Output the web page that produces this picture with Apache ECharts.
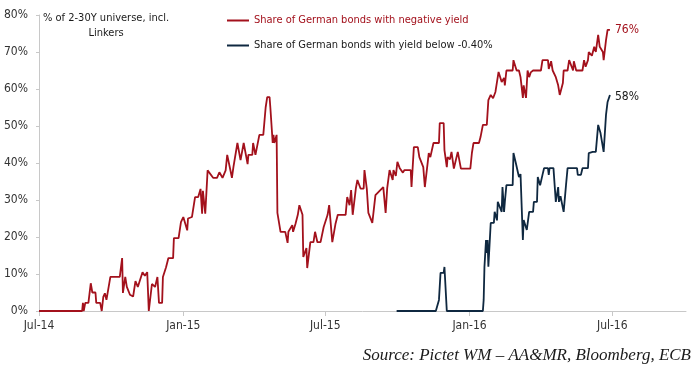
<!DOCTYPE html>
<html>
<head>
<meta charset="utf-8">
<script src="https://cdn.jsdelivr.net/npm/echarts@6/dist/echarts.min.js"></script>
<style>html,body{margin:0;padding:0;background:#fff}#c{width:699px;height:378px}</style>
</head>
<body>
<div id="c"></div>
<script>
const seriesNames = ['Share of German bonds with negative yield', 'Share of German bonds with yield below -0.40%'];
const endLabels = ['76%', '58%'];
const yAxisNote = '% of 2-30Y universe, incl.\nLinkers';
const sourceNote = 'Source: Pictet WM \u2013 AA&MR, Bloomberg, ECB';
const xRange = ['2014-07-01', '2016-10-03'];
const xTickDates = ['2014-07-01', '2015-01-01', '2015-07-01', '2016-01-01', '2016-07-01'];
const xTickLabels = ['Jul-14', 'Jan-15', 'Jul-15', 'Jan-16', 'Jul-16'];

const redDates = ['2014-07-01','2014-08-25','2014-08-26','2014-08-27','2014-08-29','2014-09-02','2014-09-05','2014-09-07','2014-09-11','2014-09-12','2014-09-17','2014-09-19','2014-09-21','2014-09-23','2014-09-25','2014-09-30','2014-10-12','2014-10-15','2014-10-16','2014-10-19','2014-10-21','2014-10-25','2014-10-29','2014-11-01','2014-11-04','2014-11-10','2014-11-13','2014-11-16','2014-11-18','2014-11-22','2014-11-26','2014-11-29','2014-12-01','2014-12-05','2014-12-06','2014-12-10','2014-12-13','2014-12-19','2014-12-20','2014-12-26','2014-12-29','2015-01-01','2015-01-06','2015-01-07','2015-01-12','2015-01-16','2015-01-20','2015-01-23','2015-01-25','2015-01-26','2015-01-29','2015-02-01','2015-02-08','2015-02-13','2015-02-16','2015-02-20','2015-02-24','2015-02-26','2015-03-02','2015-03-04','2015-03-06','2015-03-11','2015-03-15','2015-03-19','2015-03-21','2015-03-24','2015-03-25','2015-03-30','2015-03-31','2015-04-03','2015-04-05','2015-04-08','2015-04-13','2015-04-16','2015-04-18','2015-04-21','2015-04-22','2015-04-25','2015-04-26','2015-04-27','2015-04-30','2015-05-01','2015-05-05','2015-05-11','2015-05-14','2015-05-15','2015-05-20','2015-05-21','2015-05-24','2015-05-27','2015-05-29','2015-06-02','2015-06-03','2015-06-07','2015-06-08','2015-06-12','2015-06-16','2015-06-18','2015-06-21','2015-06-25','2015-06-29','2015-07-04','2015-07-06','2015-07-10','2015-07-14','2015-07-17','2015-07-27','2015-07-29','2015-08-01','2015-08-03','2015-08-05','2015-08-09','2015-08-11','2015-08-15','2015-08-19','2015-08-20','2015-08-23','2015-08-25','2015-08-30','2015-09-03','2015-09-13','2015-09-16','2015-09-18','2015-09-21','2015-09-25','2015-09-26','2015-09-29','2015-10-01','2015-10-04','2015-10-08','2015-10-10','2015-10-18','2015-10-19','2015-10-22','2015-10-27','2015-10-29','2015-11-03','2015-11-05','2015-11-09','2015-11-10','2015-11-12','2015-11-16','2015-11-23','2015-11-24','2015-11-29','2015-11-30','2015-12-03','2015-12-04','2015-12-07','2015-12-09','2015-12-12','2015-12-14','2015-12-17','2015-12-19','2015-12-21','2016-01-02','2016-01-04','2016-01-06','2016-01-13','2016-01-15','2016-01-18','2016-01-23','2016-01-25','2016-01-28','2016-01-31','2016-02-03','2016-02-07','2016-02-11','2016-02-14','2016-02-15','2016-02-17','2016-02-25','2016-02-26','2016-03-01','2016-03-04','2016-03-06','2016-03-09','2016-03-10','2016-03-13','2016-03-15','2016-03-17','2016-03-19','2016-03-22','2016-04-01','2016-04-03','2016-04-10','2016-04-11','2016-04-14','2016-04-16','2016-04-20','2016-04-23','2016-04-25','2016-04-29','2016-04-30','2016-05-05','2016-05-07','2016-05-12','2016-05-13','2016-05-16','2016-05-24','2016-05-26','2016-05-28','2016-05-31','2016-06-01','2016-06-05','2016-06-08','2016-06-10','2016-06-13','2016-06-15','2016-06-19','2016-06-20','2016-06-23','2016-06-25','2016-06-28'];
const redValues = [0,0,2.2,0,2.2,2.2,7.5,5,5,2.2,2.2,0,3.8,4.8,3,9.2,9.2,14.3,4.9,9.2,6.5,4.4,3.9,8.1,6.5,10.5,9.5,10.5,0,7.3,6.5,9.2,2.2,2.2,9.2,11.8,14.3,14.3,19.7,19.7,24,25.4,21.8,25,25.4,30.8,30.8,33,26.3,32.5,26.3,38,36,36,37.5,36,38,42.2,38.1,36,39,45.4,40.8,45.4,45,39.7,42.2,42.2,45.4,42.2,42.2,47.6,47.6,55,57.8,57.8,55,45.4,47.6,45.4,47.6,26.5,21.4,21.4,18.4,21.4,23.2,21.4,23.5,26,28.6,26,14.6,17,11.6,18.6,18.6,21.4,18.6,18.6,22.7,26,28.6,18.6,23.5,26,26,30.8,28.6,32.7,26,33.1,35.4,33.1,33.1,38.1,33,26.5,23.8,31.3,33.5,26.5,33.2,38.1,35.4,38.1,36.5,40.3,38.6,37.4,38.1,38.1,33.5,44.3,44.3,41.6,38.9,33.5,40.8,42.7,41.6,45.4,45.4,50.8,50.8,43.5,38.9,41.6,41,43,38.5,38.5,43,43,38.5,38.5,42.7,45.4,45.4,47,50.3,50.3,57,58.4,57.5,59.2,64.6,61.9,63,61,65,65,67.8,65,65,63.2,57.6,61,57.6,65,63.2,64.5,65,65,67.8,67.8,65.4,67.5,65,63.2,61,58.4,61.6,65,65,67.8,65,67.5,65,65,67.8,66,67.8,70,69,71.4,70,74.6,71.4,70,67.8,73.2,76,76];

const blueDates = ['2015-09-30','2015-11-19','2015-11-23','2015-11-25','2015-11-29','2015-11-30','2015-12-03','2016-01-18','2016-01-19','2016-01-20','2016-01-22','2016-01-23','2016-01-24','2016-01-25','2016-01-28','2016-02-01','2016-02-02','2016-02-05','2016-02-06','2016-02-08','2016-02-11','2016-02-12','2016-02-14','2016-02-15','2016-02-17','2016-02-25','2016-02-26','2016-02-29','2016-03-02','2016-03-04','2016-03-06','2016-03-09','2016-03-10','2016-03-14','2016-03-17','2016-03-22','2016-03-23','2016-03-27','2016-03-28','2016-03-31','2016-04-03','2016-04-05','2016-04-10','2016-04-11','2016-04-12','2016-04-17','2016-04-20','2016-04-23','2016-04-24','2016-04-26','2016-04-30','2016-05-03','2016-05-05','2016-05-17','2016-05-18','2016-05-22','2016-05-24','2016-05-31','2016-06-01','2016-06-06','2016-06-10','2016-06-13','2016-06-16','2016-06-20','2016-06-23','2016-06-25','2016-06-28'];
const blueValues = [0,0,3,10.3,10.3,11.9,0,0,3,11.9,19.2,15.7,19.2,12,23.8,23.8,26.8,24.5,29.5,29.5,26.8,33.5,26.8,29.5,34,34,42.7,40,40,36.2,37,19.2,24.6,21.9,26.8,26.8,29.5,29.5,36.2,34,36.8,38.6,38.6,36.8,38.6,38.6,29.5,33.5,29.5,31,26.8,34,38.6,38.6,36.8,36.8,38.6,38.6,42.7,43,43,50.3,48.1,43,53,56.5,58.4];

const RED = '#a3111c';
const BLUE = '#0f2840';
const FONT = '"DejaVu Sans Condensed", "DejaVu Sans", sans-serif';

function ts(s) { return Date.parse(s + 'T00:00:00Z'); }
function zip(d, v) { return d.map((x, i) => [ts(x), v[i]]); }
const tickTs = xTickDates.map(ts);

const chart = echarts.init(document.getElementById('c'), null, { renderer: 'canvas' });
chart.setOption({
  animation: false,
  backgroundColor: '#ffffff',
  textStyle: { fontFamily: FONT },
  grid: { left: 39, right: 13, top: 15, bottom: 67, containLabel: false },
  legend: {
    orient: 'vertical',
    left: 222,
    top: 10,
    itemWidth: 22,
    itemHeight: 2,
    itemGap: 14,
    icon: 'rect',
    selectedMode: false,
    textStyle: { fontFamily: FONT, fontSize: 11 },
    data: [
      { name: seriesNames[0], itemStyle: { color: RED }, textStyle: { color: RED } },
      { name: seriesNames[1], itemStyle: { color: BLUE }, textStyle: { color: '#1a1a1a' } }
    ]
  },
  xAxis: {
    type: 'value',
    min: ts(xRange[0]),
    max: ts(xRange[1]),
    axisLine: { show: true, lineStyle: { color: '#c8c8c8', width: 1 } },
    axisTick: { show: true, length: 5, lineStyle: { color: '#c8c8c8' }, customValues: tickTs },
    splitLine: { show: false },
    axisLabel: {
      customValues: tickTs,
      color: '#333',
      fontFamily: FONT,
      fontSize: 12,
      margin: 9,
      formatter: function (val) {
        const i = tickTs.indexOf(val);
        return i >= 0 ? xTickLabels[i] : '';
      }
    }
  },
  yAxis: {
    type: 'value',
    min: 0,
    max: 80,
    interval: 10,
    axisLine: { show: true, lineStyle: { color: '#c8c8c8', width: 1 } },
    axisTick: { show: true, length: 3, lineStyle: { color: '#c8c8c8' } },
    splitLine: { show: false },
    axisLabel: {
      color: '#333',
      fontFamily: FONT,
      fontSize: 12,
      margin: 11,
      formatter: '{value}%'
    }
  },
  graphic: [
    {
      type: 'text',
      left: 43,
      top: 11,
      style: {
        text: yAxisNote,
        textAlign: 'center',
        fill: '#1a1a1a',
        fontFamily: FONT,
        fontSize: 11,
        lineHeight: 15
      }
    },
    {
      type: 'text',
      right: 8,
      top: 347,
      style: {
        text: sourceNote,
        fill: '#1a1a1a',
        fontFamily: '"Liberation Serif", "DejaVu Serif", serif',
        fontStyle: 'italic',
        fontSize: 17
      }
    }
  ],
  series: [
    {
      name: seriesNames[0],
      type: 'line',
      symbol: 'none',
      data: zip(redDates, redValues),
      lineStyle: { color: RED, width: 1.8 },
      itemStyle: { color: RED },
      endLabel: { show: true, formatter: endLabels[0], color: RED, fontFamily: FONT, fontSize: 12, distance: 5 },
      z: 3
    },
    {
      name: seriesNames[1],
      type: 'line',
      symbol: 'none',
      data: zip(blueDates, blueValues),
      lineStyle: { color: BLUE, width: 1.8 },
      itemStyle: { color: BLUE },
      endLabel: { show: true, formatter: endLabels[1], color: '#1a1a1a', fontFamily: FONT, fontSize: 12, distance: 5, offset: [0, 2] },
      z: 4
    }
  ]
});
</script>
</body>
</html>
